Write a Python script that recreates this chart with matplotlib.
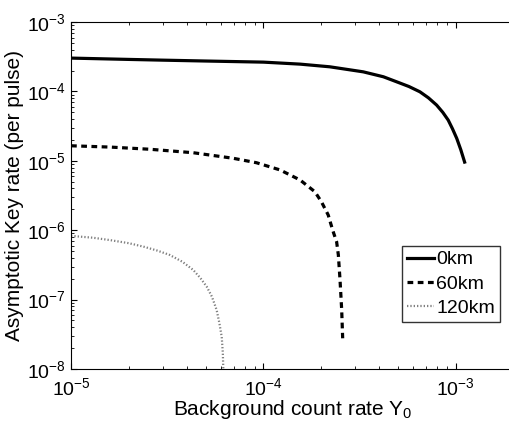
import matplotlib
matplotlib.use('Agg')
import matplotlib.pyplot as plt

plt.rcParams['font.family'] = ['Liberation Sans', 'DejaVu Sans']
plt.rcParams['mathtext.fontset'] = 'custom'
plt.rcParams['mathtext.rm'] = 'Liberation Sans'
plt.rcParams['mathtext.it'] = 'Liberation Sans'
plt.rcParams['mathtext.default'] = 'regular'

# background count rate Y0 vs asymptotic key rate
y0_0km = [1e-5, 2e-5, 3e-5, 5e-5, 1e-4, 1.55e-4, 2.21e-4, 3.3e-4, 4.2e-4, 4.92e-4,
          5.7e-4, 6.5e-4, 7.2e-4, 7.94e-4, 8.55e-4, 9.12e-4, 9.6e-4, 1.01e-3, 1.06e-3, 1.11e-3]
key_0km = [3.03e-4, 2.9e-4, 2.83e-4, 2.75e-4, 2.65e-4, 2.48e-4, 2.27e-4, 1.92e-4, 1.63e-4, 1.38e-4,
           1.18e-4, 9.9e-5, 8.1e-5, 6.37e-5, 5.0e-5, 3.87e-5, 2.9e-5, 2.11e-5, 1.45e-5, 9.6e-6]

y0_60km = [1e-5, 1.6e-5, 2.57e-5, 4.32e-5, 6.96e-5, 9.2e-5, 1.22e-4, 1.55e-4, 1.85e-4,
           2.0e-4, 2.17e-4, 2.29e-4, 2.4e-4, 2.45e-4, 2.5e-4, 2.55e-4, 2.58e-4]
key_60km = [1.65e-5, 1.58e-5, 1.47e-5, 1.31e-5, 1.09e-5, 9.4e-6, 7.4e-6, 5.3e-6, 3.59e-6,
            2.58e-6, 1.66e-6, 1.0e-6, 6.8e-7, 4.4e-7, 1.91e-7, 7.1e-8, 2.77e-8]

y0_120km = [1e-5, 1.3e-5, 1.6e-5, 2.0e-5, 2.38e-5, 2.8e-5, 3.26e-5, 3.8e-5, 4.32e-5,
            4.7e-5, 5.07e-5, 5.4e-5, 5.71e-5, 5.9e-5, 6.07e-5, 6.15e-5, 6.2e-5]
key_120km = [8.3e-7, 7.8e-7, 7.2e-7, 6.5e-7, 5.8e-7, 5.1e-7, 4.4e-7, 3.5e-7, 2.67e-7,
             2.05e-7, 1.54e-7, 1.1e-7, 7.1e-8, 4.6e-8, 2.9e-8, 1.7e-8, 8e-9]

fig = plt.figure(figsize=(5.09, 4.23), dpi=100)
ax = fig.add_axes([0.1395, 0.1277, 0.870, 0.820])

ax.loglog(y0_0km, key_0km, '-', color='k', lw=2.3, label='0km')
ax.loglog(y0_60km, key_60km, color='k', lw=2.3, linestyle=(0, (1.8, 1.4)), label='60km')
ax.loglog(y0_120km, key_120km, color='0.5', lw=1.6, linestyle=(0, (0.6, 0.9)), label='120km')

ax.set_xlim(1e-5, 2e-3)
ax.set_ylim(1e-8, 1e-3)
ax.spines['right'].set_visible(False)
ax.tick_params(which='both', direction='in', top=True, right=False, labelsize=14)
ax.tick_params(which='major', length=4)
ax.tick_params(which='minor', length=2)
ax.tick_params(axis='x', pad=6)

ax.set_xlabel('Background count rate Y$_0$', fontsize=15, labelpad=-1)
ax.set_ylabel('Asymptotic Key rate (per pulse)', fontsize=15, labelpad=2)

leg = ax.legend(loc='lower right', bbox_to_anchor=(500 / 509, 101 / 423),
                bbox_transform=fig.transFigure, borderaxespad=0, fontsize=14,
                fancybox=False, handlelength=1.4, handletextpad=0.1,
                labelspacing=0.35, borderpad=0.25)
leg.get_frame().set_edgecolor('k')
leg.get_frame().set_linewidth(1.0)

plt.savefig('out.png', dpi=100)
